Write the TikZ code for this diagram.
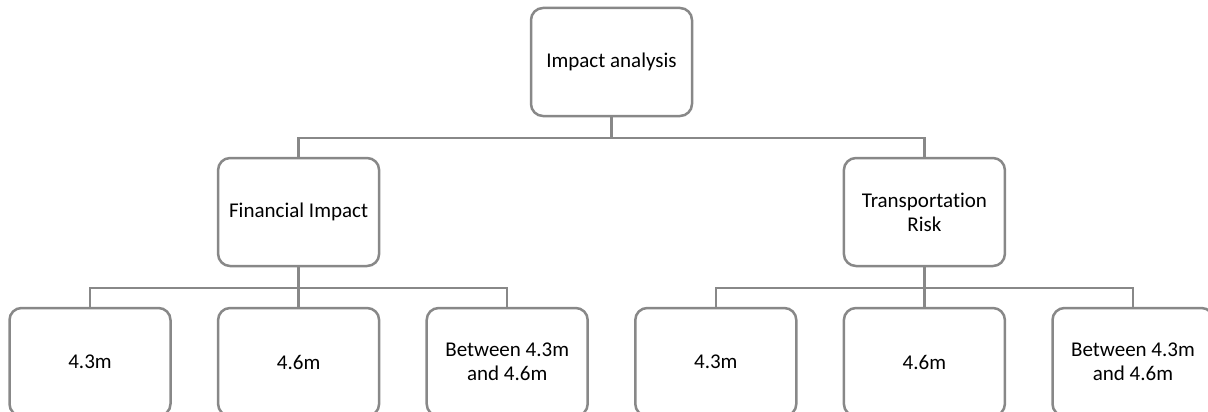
\documentclass[tikz,border=0pt]{standalone}
\usepackage{fontspec}
\setmainfont{Carlito}[Ligatures={NoCommon}]
\definecolor{boxgray}{RGB}{136,136,136}
\tikzset{
  card/.style={draw=boxgray, line width=2.5pt, rounded corners=12pt, fill=white,
    minimum width=161pt, minimum height=108pt, align=center,
    font=\fontsize{21}{24}\selectfont, text=black},
  conn/.style={draw=boxgray, line width=2.4pt}
}
\begin{document}
\begin{tikzpicture}[x=1pt, y=-1pt]
  \useasboundingbox (0,0) rectangle (1208,412);
  \clip (0,0) rectangle (1208,412);

  % root
  \node[card] (root) at (611.5,62) {Impact analysis};

  % second level
  \node[card] (fin) at (298.6,212) {Financial Impact};
  \node[card] (trn) at (924.4,212) {Transportation\\Risk};

  % leaves
  \node[card] (f1) at (90,362) {4.3m};
  \node[card] (f2) at (298.6,362) {4.6m};
  \node[card] (f3) at (507.2,362) {Between 4.3m\\and 4.6m};
  \node[card] (t1) at (715.8,362) {4.3m};
  \node[card] (t2) at (924.4,362) {4.6m};
  \node[card] (t3) at (1133,362) {Between 4.3m\\and 4.6m};

  % tree connectors
  \draw[conn] (root.south) -- ++(0,21) -| (fin.north);
  \draw[conn] (root.south) -- ++(0,21) -| (trn.north);
  \foreach \c in {f1,f2,f3}
    \draw[conn] (fin.south) -- ++(0,21) -| (\c.north);
  \foreach \c in {t1,t2,t3}
    \draw[conn] (trn.south) -- ++(0,21) -| (\c.north);
\end{tikzpicture}
\end{document}
